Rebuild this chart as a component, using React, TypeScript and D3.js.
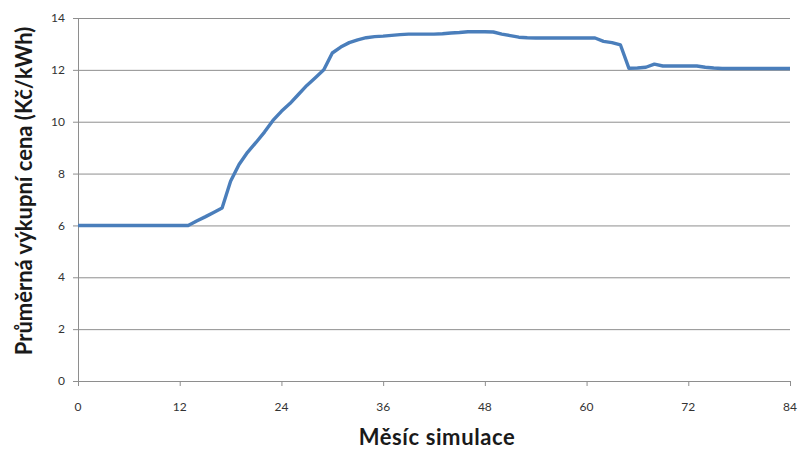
import React from "react";
import * as d3 from "d3";

// Average feed-in price per simulated month (Kč/kWh), months 0..84
const priceValues: number[] = [
  6.0, 6.0, 6.0, 6.0, 6.0, 6.0, 6.0, 6.0, 6.0, 6.0, 6.0, 6.0, 6.0, 6.0,
  6.17, 6.33, 6.5, 6.67, 7.7, 8.35, 8.82, 9.2, 9.6, 10.05, 10.4, 10.7,
  11.05, 11.4, 11.7, 12.0, 12.65, 12.88, 13.05, 13.16, 13.24, 13.28, 13.3,
  13.33, 13.36, 13.38, 13.38, 13.38, 13.38, 13.39, 13.42, 13.44, 13.47,
  13.47, 13.47, 13.46, 13.38, 13.32, 13.26, 13.24, 13.23, 13.23, 13.23,
  13.23, 13.23, 13.23, 13.23, 13.23, 13.1, 13.05, 12.96, 12.06, 12.07,
  12.1, 12.22, 12.15, 12.15, 12.15, 12.15, 12.15, 12.1, 12.07, 12.05,
  12.05, 12.05, 12.05, 12.05, 12.05, 12.05, 12.05, 12.05,
];

const xTicks: number[] = [0, 12, 24, 36, 48, 60, 72, 84];
const yTicks: number[] = [0, 2, 4, 6, 8, 10, 12, 14];

const xTitle = "Měsíc simulace";
const yTitle = "Průměrná výkupní cena (Kč/kWh)";

export default function App() {
  const width = 801;
  const height = 449;
  const left = 78;
  const right = 790;
  const top = 18;
  const bottom = 381;

  const x = d3.scaleLinear().domain([0, 84]).range([left, right]);
  const y = d3.scaleLinear().domain([0, 14]).range([bottom, top]);

  const line = d3
    .line<number>()
    .x((_, i) => x(i))
    .y((d) => y(d));

  const font = "Lato, 'Open Sans', sans-serif";
  const gridColor = "#8e8e8e";

  return (
    <svg
      width={width}
      height={height}
      style={{ position: "absolute", left: 0, top: 0, background: "#fff" }}
    >
      {/* horizontal gridlines */}
      {yTicks.map((t) => (
        <line
          key={"g" + t}
          x1={left - 5}
          x2={right}
          y1={y(t) + 0.5}
          y2={y(t) + 0.5}
          stroke={gridColor}
          strokeWidth={1}
        />
      ))}
      {/* y axis */}
      <line x1={left + 0.5} x2={left + 0.5} y1={top} y2={bottom} stroke={gridColor} />
      {/* x tick marks */}
      {xTicks.map((t) => (
        <line
          key={"xt" + t}
          x1={x(t) + 0.5}
          x2={x(t) + 0.5}
          y1={bottom}
          y2={bottom + 5}
          stroke={gridColor}
        />
      ))}
      {/* y tick labels */}
      {yTicks.map((t) => (
        <text
          key={"yl" + t}
          x={left - 13}
          y={y(t)}
          dy="0.35em"
          textAnchor="end"
          fontFamily={font}
          fontSize={12}
          fill="#333"
        >
          {t}
        </text>
      ))}
      {/* x tick labels */}
      {xTicks.map((t) => (
        <text
          key={"xl" + t}
          x={x(t)}
          y={407}
          dy="0.35em"
          textAnchor="middle"
          fontFamily={font}
          fontSize={12}
          fill="#333"
        >
          {t}
        </text>
      ))}
      {/* data line */}
      <path
        d={line(priceValues) || ""}
        fill="none"
        stroke="#4a7ebb"
        strokeWidth={3.4}
        strokeLinejoin="round"
      />
      {/* axis titles */}
      <text
        x={437}
        y={445}
        textAnchor="middle"
        fontFamily={font}
        fontSize={22}
        fontWeight="bold"
        letterSpacing={0.6}
        fill="#1a1a1a"
      >
        {xTitle}
      </text>
      <text
        transform={`translate(24, 191) rotate(-90)`}
        dy="0.35em"
        textAnchor="middle"
        fontFamily={font}
        fontSize={22}
        fontWeight="bold"
        fill="#1a1a1a"
      >
        {yTitle}
      </text>
    </svg>
  );
}
